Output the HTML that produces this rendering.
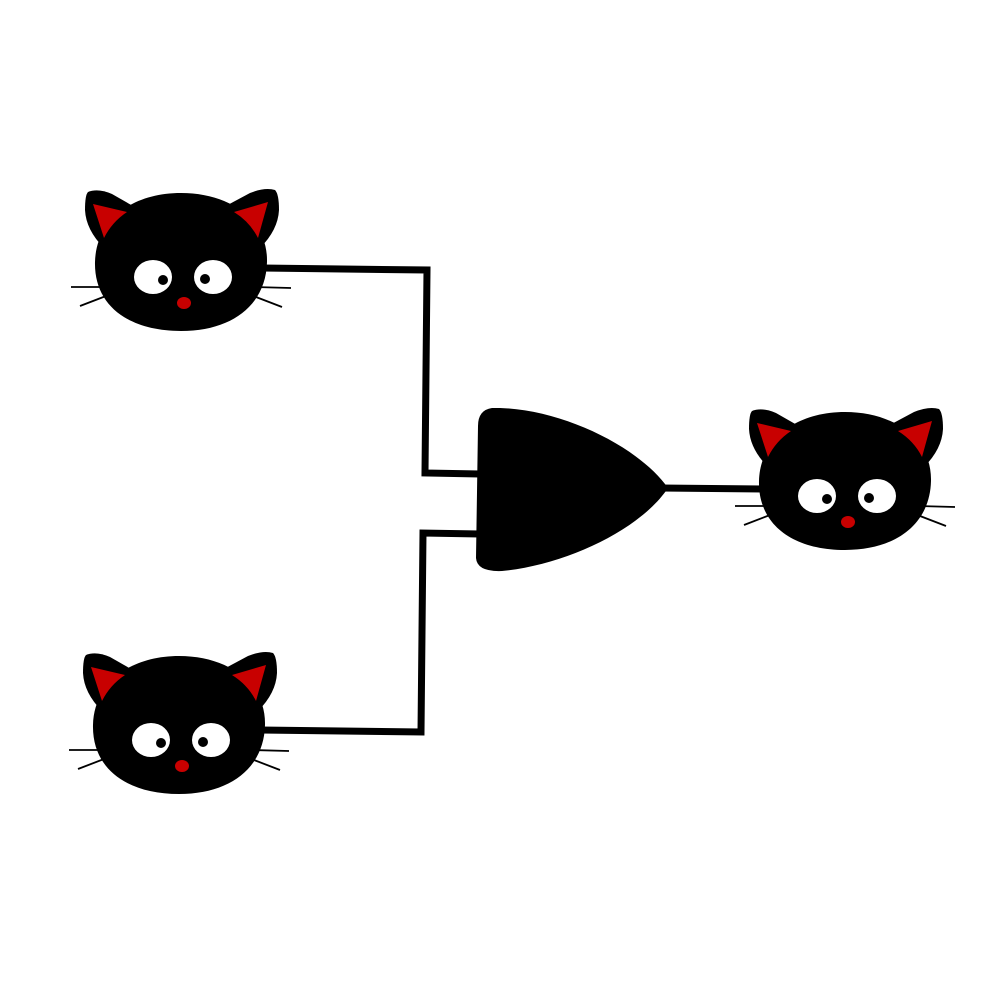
<!DOCTYPE html>
<html><head><meta charset="utf-8"><style>html,body{margin:0;padding:0;background:#fff}svg{display:block}</style></head>
<body>
<svg width="1000" height="1000" viewBox="0 0 1000 1000">
<defs>
<g id="cat">
  <path d="M88,192 Q98,188 112,194 L140,210 L104,248 Q86,230 85,210 Q85,195 88,192 Z" fill="#000"/>
  <path d="M275,190 Q265,187 250,193 L222,208 L260,248 Q278,230 279,210 Q279,194 275,190 Z" fill="#000"/>
  <path d="M181,193 C230,193 268,220 267,262 C266,305 232,331 181,331 C128,331 94,305 95,262 C96,220 132,193 181,193 Z" fill="#000"/>
  <path d="M93,204 L127,212 Q112,222 104,238 Z" fill="#c80000"/>
  <path d="M268,202 L234,212 Q250,222 258,238 Z" fill="#c80000"/>
  <ellipse cx="153" cy="277" rx="19" ry="17" fill="#fff"/>
  <ellipse cx="213" cy="277" rx="19" ry="17" fill="#fff"/>
  <circle cx="163" cy="280" r="5" fill="#000"/>
  <circle cx="205" cy="279" r="5" fill="#000"/>
  <ellipse cx="184" cy="303" rx="7" ry="6" fill="#c80000"/>
  <g stroke="#000" stroke-width="1.8" fill="none">
    <line x1="71" y1="287" x2="112" y2="287"/>
    <line x1="80" y1="306" x2="106" y2="296"/>
    <line x1="254" y1="287" x2="291" y2="288"/>
    <line x1="256" y1="297" x2="282" y2="307"/>
  </g>
</g>
</defs>
<g fill="none" stroke="#000" stroke-width="7">
  <polyline points="262,268 427,270 425,473 480,474"/>
  <polyline points="260,730 421,732 423,533 480,534"/>
  <polyline points="660,488 765,489"/>
</g>
<path d="M492,408 Q478,410 478,426 L476,558 Q477,572 502,571 C565,565 640,530 668,488 C640,448 565,410 500,408 Z" fill="#000"/>
<use href="#cat"/>
<use href="#cat" transform="translate(-2,463)"/>
<use href="#cat" transform="translate(664,219)"/>
</svg>
</body></html>
